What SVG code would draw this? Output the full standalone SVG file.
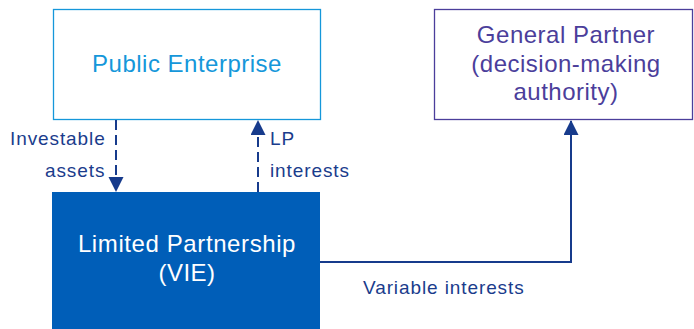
<svg xmlns="http://www.w3.org/2000/svg" width="694" height="329" viewBox="0 0 694 329">
<style>
text{font-family:"Liberation Sans",Arial,sans-serif}
.big{font-size:24px;letter-spacing:0.5px;text-anchor:middle}
.lbl{font-size:19px;letter-spacing:0.9px;fill:#1A3C8C}
.conn{stroke:#173B8C;stroke-width:2;fill:none}
.dash{stroke-dasharray:10 5}
</style>
<defs>
<marker id="ah" markerWidth="16" markerHeight="16" refX="14" refY="7.5" orient="auto" markerUnits="userSpaceOnUse">
<path d="M0,0 L15,7.5 L0,15 Z" fill="#173B8C"/>
</marker>
</defs>
<rect width="694" height="329" fill="#fff"/>
<g id="public-enterprise">
<rect x="53.5" y="9.5" width="267" height="110" fill="#fff" stroke="#1597DA" stroke-width="1.3"/>
<text class="big" x="187" y="72" fill="#1597DA">Public Enterprise</text>
</g>
<g id="general-partner">
<rect x="434.5" y="9.5" width="258" height="110" fill="#fff" stroke="#4B3E9B" stroke-width="1.3"/>
<text class="big" x="566" y="43" fill="#4B3E9B">General Partner</text>
<text class="big" x="566" y="72" fill="#4B3E9B">(decision-making</text>
<text class="big" x="566" y="100" fill="#4B3E9B">authority)</text>
</g>
<g id="limited-partnership">
<rect x="52" y="192" width="268" height="140" fill="#005EB8"/>
<text class="big" x="187" y="252" fill="#fff" style="letter-spacing:0.6px">Limited Partnership</text>
<text class="big" x="187" y="281" fill="#fff">(VIE)</text>
</g>
<g id="connectors">
<line class="conn dash" x1="116" y1="120" x2="116" y2="191" marker-end="url(#ah)"/>
<line class="conn dash" x1="258" y1="192" x2="258" y2="121" marker-end="url(#ah)"/>
<polyline class="conn" points="320,262 571,262 571,121" marker-end="url(#ah)"/>
<text class="lbl" x="10" y="145">Investable</text>
<text class="lbl" x="45" y="177">assets</text>
<text class="lbl" x="270" y="145">LP</text>
<text class="lbl" x="270" y="177">interests</text>
<text class="lbl" x="363" y="294">Variable interests</text>
</g>
</svg>
